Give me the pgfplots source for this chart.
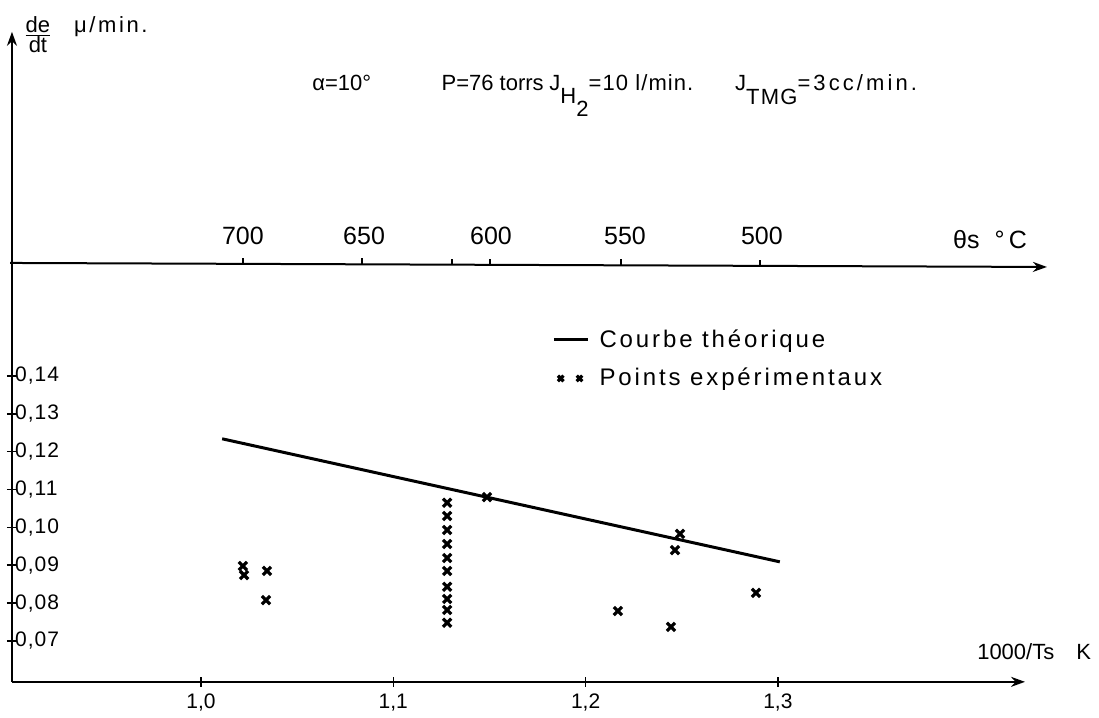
\documentclass[border=0pt]{standalone}
\usepackage{fontspec}
\setmainfont{Liberation Sans}
\newfontfamily\ls[LetterSpace=12]{Liberation Sans}
\usepackage{pgfplots}
\pgfplotsset{compat=1.18}
\usetikzlibrary{arrows.meta}

\pgfplotstableread{
x y
1.0218 0.0898
1.0224 0.0874
1.0343 0.0885
1.0338 0.0808
1.128 0.1065
1.128 0.1030
1.128 0.0993
1.128 0.0956
1.128 0.0919
1.128 0.0885
1.128 0.0843
1.128 0.0811
1.128 0.0782
1.128 0.0748
1.1487 0.1080
1.2168 0.0779
1.2444 0.0737
1.2491 0.0983
1.2465 0.0940
1.2886 0.0827
}\experimental

\begin{document}
\begin{tikzpicture}
\begin{axis}[
  scale only axis,
  width=506.5pt, height=325pt,
  xmin=0.9017, xmax=1.4285, ymin=0.0592, ymax=0.2309,
  axis lines=left,
  axis line style={line width=1pt, -{Stealth[length=7pt,width=5pt]}},
  clip=false,
  xtick={1.0,1.1,1.2,1.3},
  xticklabels={{1,0},{1,1},{1,2},{1,3}},
  ytick={0.07,0.08,0.09,0.10,0.11,0.12,0.13,0.14},
  yticklabels={{0,07},{0,08},{0,09},{0,10},{0,11},{0,12},{0,13},{0,14}},
  xticklabel style={font=\fontsize{10.5}{12}\selectfont},
  yticklabel style={anchor=west, xshift=0.5pt, font=\fontsize{10.5}{12}\selectfont\addfontfeatures{LetterSpace=5}},
  tick style={line width=0.8pt, black},
  major tick length=5pt,
  tick align=center,
  legend style={draw=none, fill=none, at={(axis cs:1.1794,0.1545)}, anchor=north west,
    font=\ls\fontsize{12}{14}\selectfont, row sep=5pt,
    nodes={inner xsep=5pt}},
  legend cell align=left,
]
\addplot[black, line width=1.5pt] coordinates {(1.011,0.1234) (1.301,0.0909)};
\addlegendentry{Courbe théorique}
\addplot[only marks, mark=x, mark size=2.9pt, mark options={line width=1.6pt},
  legend image code/.code={
    \draw[line width=1.3pt] plot[only marks, mark=x, mark size=2pt] coordinates {(0.12cm,0cm) (0.45cm,0cm)};
  }] table[x=x, y=y] {\experimental};
\addlegendentry{Points expérimentaux}

% secondary temperature axis
\draw[line width=1pt, -{Stealth[length=7pt,width=5pt]}] (axis cs:0.9007,0.16985) -- (axis cs:1.4399,0.16879);
\draw[line width=0.8pt] (axis cs:1.0218,0.16965) -- (axis cs:1.0218,0.17123);
\draw[line width=0.8pt] (axis cs:1.0837,0.16950) -- (axis cs:1.0837,0.17108);
\draw[line width=0.8pt] (axis cs:1.1305,0.16940) -- (axis cs:1.1305,0.17098);
\draw[line width=0.8pt] (axis cs:1.1503,0.16935) -- (axis cs:1.1503,0.17093);
\draw[line width=0.8pt] (axis cs:1.2184,0.16920) -- (axis cs:1.2184,0.17078);
\draw[line width=0.8pt] (axis cs:1.2907,0.16905) -- (axis cs:1.2907,0.17063);
\node[font=\fontsize{12.5}{14}\selectfont] at (axis cs:1.0218,0.17698) {700};
\node[font=\fontsize{12.5}{14}\selectfont] at (axis cs:1.0848,0.17698) {650};
\node[font=\fontsize{12.5}{14}\selectfont] at (axis cs:1.1508,0.17698) {600};
\node[font=\fontsize{12.5}{14}\selectfont] at (axis cs:1.2205,0.17698) {550};
\node[font=\fontsize{12.5}{14}\selectfont] at (axis cs:1.2917,0.17698) {500};
\node[font=\fontsize{12.5}{14}\selectfont] at (axis cs:1.4103,0.1759) {θs\hspace{0.6em}°\,C};

% y axis label
\node[font=\fontsize{11}{13}\selectfont] at (axis cs:0.9152,0.2301) {$\frac{\mbox{de}}{\mbox{dt}}$};
\node[anchor=west, font=\ls\fontsize{11}{13}\selectfont] at (axis cs:0.9303,0.2322) {μ/min.};

% conditions
\node[anchor=base west, font=\fontsize{11}{13}\selectfont, inner sep=0pt] at (axis cs:1.0577,0.2153) {α=10°};
\node[anchor=base west, font=\fontsize{11}{13}\selectfont, inner sep=0pt] at (axis cs:1.1249,0.2153) {P=76 torrs};
\node[anchor=base west, font=\fontsize{11}{13}\selectfont, inner sep=0pt] at (axis cs:1.1810,0.2153) {J\raisebox{-6.5pt}{H}\raisebox{-13pt}{2}{\addfontfeatures{LetterSpace=5}=10 l/min.}};
\node[anchor=base west, font=\fontsize{11}{13}\selectfont, inner sep=0pt] at (axis cs:1.2775,0.2153) {J\raisebox{-7pt}{\addfontfeatures{LetterSpace=6}TMG}{\addfontfeatures{LetterSpace=14}=3cc/min.}};

% x axis label
\node[anchor=west, font=\fontsize{11}{13}\selectfont] at (axis cs:1.4000,0.0671) {1000/Ts\hspace{1em}K};

% page extent
\path (axis cs:0.89547,0.05231) rectangle (axis cs:1.46698,0.23931);
\end{axis}
\end{tikzpicture}
\end{document}
